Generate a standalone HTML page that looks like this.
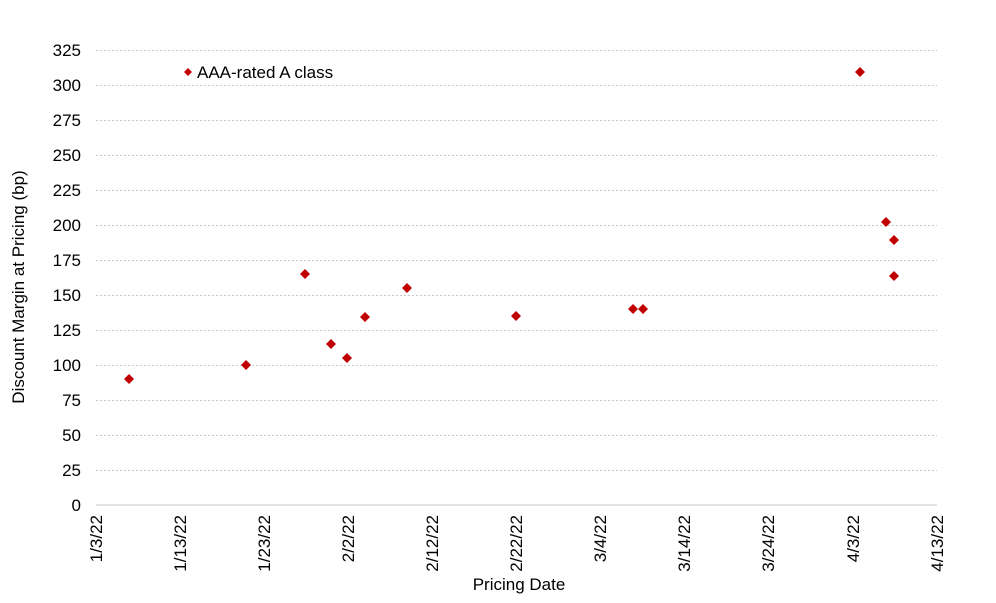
<!DOCTYPE html>
<html><head><meta charset="utf-8"><style>
html,body{margin:0;padding:0;background:#fff;}
svg{display:block;font-family:"Liberation Sans",Arial,sans-serif;}
</style></head><body>
<svg width="996" height="603" viewBox="0 0 996 603" xmlns="http://www.w3.org/2000/svg">
<g stroke="#c8c8c8" stroke-width="1" stroke-dasharray="2,2">
<line x1="96" x2="937" y1="50.5" y2="50.5"/>
<line x1="96" x2="937" y1="85.5" y2="85.5"/>
<line x1="96" x2="937" y1="120.5" y2="120.5"/>
<line x1="96" x2="937" y1="155.5" y2="155.5"/>
<line x1="96" x2="937" y1="190.5" y2="190.5"/>
<line x1="96" x2="937" y1="225.5" y2="225.5"/>
<line x1="96" x2="937" y1="260.5" y2="260.5"/>
<line x1="96" x2="937" y1="295.5" y2="295.5"/>
<line x1="96" x2="937" y1="330.5" y2="330.5"/>
<line x1="96" x2="937" y1="365.5" y2="365.5"/>
<line x1="96" x2="937" y1="400.5" y2="400.5"/>
<line x1="96" x2="937" y1="435.5" y2="435.5"/>
<line x1="96" x2="937" y1="470.5" y2="470.5"/>
</g>
<line x1="96" x2="937" y1="505" y2="505" stroke="#d9d9d9" stroke-width="1.5"/>
<g font-size="17" fill="#000" text-anchor="end">
<text x="81" y="56">325</text><text x="81" y="91">300</text><text x="81" y="126">275</text>
<text x="81" y="161">250</text><text x="81" y="196">225</text><text x="81" y="231">200</text>
<text x="81" y="266">175</text><text x="81" y="301">150</text><text x="81" y="336">125</text>
<text x="81" y="371">100</text><text x="81" y="406">75</text><text x="81" y="441">50</text>
<text x="81" y="476">25</text><text x="81" y="511">0</text>
</g>
<g font-size="17" fill="#000" text-anchor="end">
<text transform="translate(102,515) rotate(-90)">1/3/22</text>
<text transform="translate(186,515) rotate(-90)">1/13/22</text>
<text transform="translate(270,515) rotate(-90)">1/23/22</text>
<text transform="translate(354,515) rotate(-90)">2/2/22</text>
<text transform="translate(438,515) rotate(-90)">2/12/22</text>
<text transform="translate(522,515) rotate(-90)">2/22/22</text>
<text transform="translate(606,515) rotate(-90)">3/4/22</text>
<text transform="translate(690,515) rotate(-90)">3/14/22</text>
<text transform="translate(774,515) rotate(-90)">3/24/22</text>
<text transform="translate(859,515) rotate(-90)">4/3/22</text>
<text transform="translate(943,515) rotate(-90)">4/13/22</text>
</g>
<text x="519" y="590" font-size="17" text-anchor="middle">Pricing Date</text>
<text transform="translate(24,287) rotate(-90)" font-size="17" text-anchor="middle">Discount Margin at Pricing (bp)</text>
<g fill="#c00000">
<path d="M129,374 l5,5 l-5,5 l-5,-5z"/>
<path d="M246,360 l5,5 l-5,5 l-5,-5z"/>
<path d="M305,269 l5,5 l-5,5 l-5,-5z"/>
<path d="M331,339 l5,5 l-5,5 l-5,-5z"/>
<path d="M347,353 l5,5 l-5,5 l-5,-5z"/>
<path d="M365,312 l5,5 l-5,5 l-5,-5z"/>
<path d="M407,283 l5,5 l-5,5 l-5,-5z"/>
<path d="M516,311 l5,5 l-5,5 l-5,-5z"/>
<path d="M633,304 l5,5 l-5,5 l-5,-5z"/>
<path d="M643,304 l5,5 l-5,5 l-5,-5z"/>
<path d="M860,67 l5,5 l-5,5 l-5,-5z"/>
<path d="M886,217 l5,5 l-5,5 l-5,-5z"/>
<path d="M894,235 l5,5 l-5,5 l-5,-5z"/>
<path d="M894,271 l5,5 l-5,5 l-5,-5z"/>
<path d="M188,68 l4,4 l-4,4 l-4,-4z"/>
</g>
<text x="197" y="78" font-size="17">AAA-rated A class</text>
</svg>
</body></html>
